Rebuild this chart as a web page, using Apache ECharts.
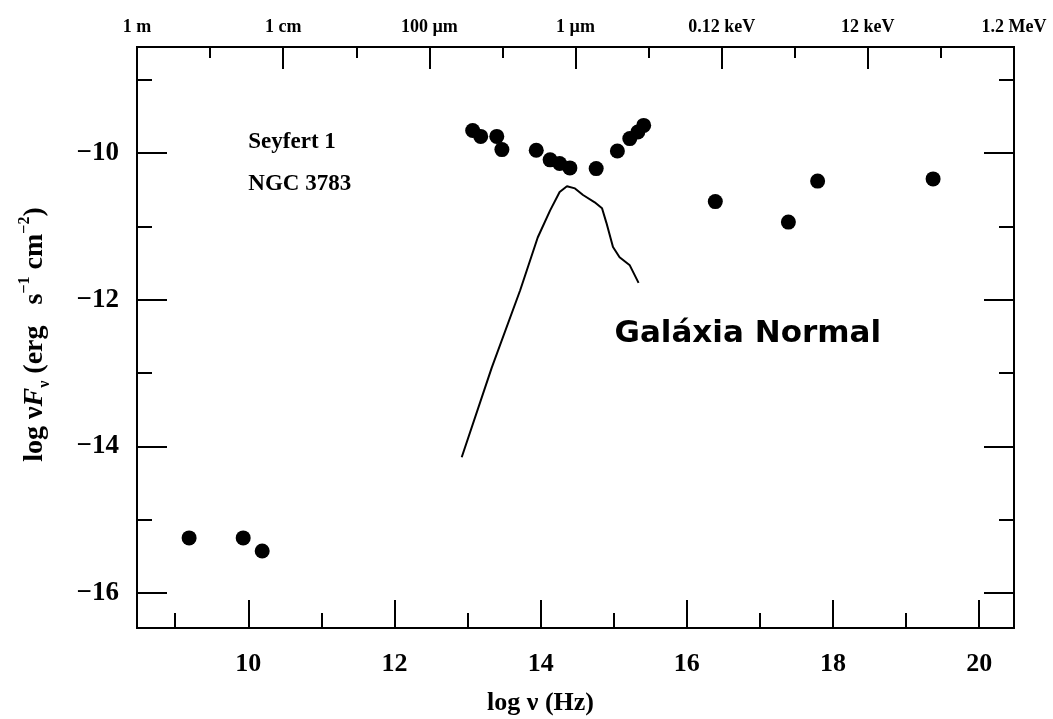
<!DOCTYPE html>
<html>
<head>
<meta charset="utf-8">
<script src="https://cdn.jsdelivr.net/npm/echarts@6/dist/echarts.min.js"></script>
<style>
  html, body { margin: 0; padding: 0; background: #fff; }
  #chart { width: 1053px; height: 719px; }
</style>
</head>
<body>
<div id="chart"></div>
<script>
// Seyfert 1 NGC 3783 spectral energy distribution (log nu in Hz, log nuF_nu)
const seyfertLogNu   = [9.19, 9.93, 10.19, 13.07, 13.18, 13.40, 13.47, 13.94, 14.13, 14.26, 14.40, 14.76, 15.05, 15.22, 15.33, 15.41, 16.39, 17.39, 17.79, 19.37];
const seyfertLogFlux = [-15.25, -15.25, -15.43, -9.69, -9.77, -9.77, -9.95, -9.96, -10.09, -10.14, -10.20, -10.21, -9.97, -9.80, -9.71, -9.62, -10.66, -10.94, -10.38, -10.35];

// Template of a normal galaxy
const galaxyLogNu   = [12.92, 13.33, 13.72, 13.81, 13.96, 14.13, 14.26, 14.36, 14.47, 14.58, 14.74, 14.84, 14.90, 14.99, 15.08, 15.22, 15.34];
const galaxyLogFlux = [-14.15, -12.93, -11.87, -11.60, -11.15, -10.78, -10.53, -10.45, -10.48, -10.57, -10.67, -10.75, -10.95, -11.28, -11.42, -11.53, -11.77];

// Axis ranges and ticks
const xRange = [8.477, 20.477];
const yRange = [-16.48, -8.55];
const xMajorTicks = [10, 12, 14, 16, 18, 20];
const xMinorTicks = [9, 11, 13, 15, 17, 19];
const yMajorTicks = [-16, -14, -12, -10];
const yMinorTicks = [-15, -13, -11, -9];

// Top scale: wavelength / photon energy, one mark every two decades
const topLabelValues = [8.477, 10.477, 12.477, 14.477, 16.477, 18.477, 20.477];
const topLabelTexts  = ['1 m', '1 cm', '100 µm', '1 µm', '0.12 keV', '12 keV', '1.2 MeV'];
const topMajorTicks  = [10.477, 12.477, 14.477, 16.477, 18.477];
const topMinorTicks  = [9.477, 11.477, 13.477, 15.477, 17.477, 19.477];

// Text annotations placed in data coordinates
const notes = [
  { text: 'Seyfert 1', x: 10.0, y: -9.85, font: 'serif' },
  { text: 'NGC 3783', x: 10.0, y: -10.42, font: 'serif' },
  { text: 'Galáxia Normal', x: 15.01, y: -12.46, font: 'sans' }
];

const SERIF = "'Liberation Serif', 'Times New Roman', serif";
const SANS = "'DejaVu Sans', Verdana, sans-serif";
const INK = '#000';

function frameAxis(extra) {
  return Object.assign({
    type: 'value',
    min: xRange[0],
    max: xRange[1],
    axisLine: { show: true, onZero: false, lineStyle: { color: INK, width: 2 } },
    splitLine: { show: false },
    axisLabel: { show: false },
    axisTick: { show: false }
  }, extra);
}

function yFrameAxis(extra) {
  return Object.assign({
    type: 'value',
    min: yRange[0],
    max: yRange[1],
    axisLine: { show: true, onZero: false, lineStyle: { color: INK, width: 2 } },
    splitLine: { show: false },
    axisLabel: { show: false },
    axisTick: { show: false }
  }, extra);
}

const chart = echarts.init(document.getElementById('chart'), null, { renderer: 'canvas' });

chart.setOption({
  backgroundColor: '#fff',
  animation: false,
  grid: { left: 137, right: 39, top: 47, bottom: 91, containLabel: false, outerBoundsMode: 'none' },
  xAxis: [
    frameAxis({
      position: 'bottom',
      name: 'log ν (Hz)',
      nameLocation: 'middle',
      nameGap: 62,
      nameTextStyle: { fontFamily: SERIF, fontWeight: 'bold', fontSize: 26, color: INK, padding: [0, 70, 0, 0] },
      axisTick: { show: true, inside: true, length: 28, customValues: xMajorTicks, lineStyle: { color: INK, width: 2 } },
      axisLabel: { show: true, margin: 23, customValues: xMajorTicks, fontFamily: SERIF, fontWeight: 'bold', fontSize: 26, color: INK }
    }),
    frameAxis({
      position: 'bottom',
      axisTick: { show: true, inside: true, length: 15, customValues: xMinorTicks, lineStyle: { color: INK, width: 2 } }
    }),
    frameAxis({
      position: 'top',
      axisTick: { show: true, inside: true, length: 22, customValues: topMajorTicks, lineStyle: { color: INK, width: 2 } },
      axisLabel: {
        show: true, margin: 11, customValues: topLabelValues,
        fontFamily: SERIF, fontWeight: 'bold', fontSize: 18, color: INK,
        formatter: function (v) {
          const i = topLabelValues.findIndex(function (t) { return Math.abs(t - v) < 1e-6; });
          return i >= 0 ? topLabelTexts[i] : '';
        }
      }
    }),
    frameAxis({
      position: 'top',
      axisTick: { show: true, inside: true, length: 11, customValues: topMinorTicks, lineStyle: { color: INK, width: 2 } }
    })
  ],
  yAxis: [
    yFrameAxis({
      position: 'left',
      name: '{n|log ν}{it|F}{sub|ν}{n| (erg   s}{sup|−1}{n| cm}{sup|−2}{n|)}',
      nameLocation: 'middle',
      nameRotate: 90,
      nameGap: 84,
      nameTextStyle: {
        padding: [0, 0, 0, 6],
        rich: {
          n:   { fontFamily: SERIF, fontWeight: 'bold', fontSize: 28, color: INK, lineHeight: 36, verticalAlign: 'middle' },
          it:  { fontFamily: SERIF, fontWeight: 'bold', fontStyle: 'italic', fontSize: 28, color: INK, lineHeight: 36, verticalAlign: 'middle' },
          sub: { fontFamily: SERIF, fontWeight: 'bold', fontSize: 16, color: INK, lineHeight: 36, verticalAlign: 'bottom' },
          sup: { fontFamily: SERIF, fontWeight: 'bold', fontSize: 16, color: INK, lineHeight: 36, verticalAlign: 'top' }
        }
      },
      axisTick: { show: true, inside: true, length: 30, customValues: yMajorTicks, lineStyle: { color: INK, width: 2 } },
      axisLabel: {
        show: true, margin: 18, customValues: yMajorTicks,
        fontFamily: SERIF, fontWeight: 'bold', fontSize: 27, color: INK,
        formatter: function (v) { return String(v).replace('-', '−'); }
      }
    }),
    yFrameAxis({
      position: 'left',
      axisTick: { show: true, inside: true, length: 15, customValues: yMinorTicks, lineStyle: { color: INK, width: 2 } }
    }),
    yFrameAxis({
      position: 'right',
      axisTick: { show: true, inside: true, length: 30, customValues: yMajorTicks, lineStyle: { color: INK, width: 2 } }
    }),
    yFrameAxis({
      position: 'right',
      axisTick: { show: true, inside: true, length: 15, customValues: yMinorTicks, lineStyle: { color: INK, width: 2 } }
    })
  ],
  series: [
    {
      name: 'Galáxia Normal',
      type: 'line',
      xAxisIndex: 0,
      yAxisIndex: 0,
      showSymbol: false,
      symbol: 'none',
      lineStyle: { color: INK, width: 2 },
      data: galaxyLogNu.map(function (x, i) { return [x, galaxyLogFlux[i]]; }),
      z: 2
    },
    {
      name: 'NGC 3783',
      type: 'scatter',
      xAxisIndex: 0,
      yAxisIndex: 0,
      symbol: 'circle',
      symbolSize: 15,
      itemStyle: { color: '#000', opacity: 1 },
      data: seyfertLogNu.map(function (x, i) { return [x, seyfertLogFlux[i]]; }),
      z: 3
    },
    {
      name: 'notes',
      type: 'scatter',
      xAxisIndex: 0,
      yAxisIndex: 0,
      symbolSize: 0,
      silent: true,
      itemStyle: { opacity: 1 },
      data: notes.map(function (n) {
        return {
          value: [n.x, n.y],
          label: {
            show: true,
            position: [0, 0],
            align: 'left',
            verticalAlign: 'middle',
            formatter: n.text,
            fontFamily: n.font === 'serif' ? SERIF : SANS,
            fontWeight: 'bold',
            fontSize: n.font === 'serif' ? 23 : 31,
            color: INK,
            opacity: 1
          }
        };
      }),
      z: 4
    }
  ]
});
</script>
</body>
</html>
